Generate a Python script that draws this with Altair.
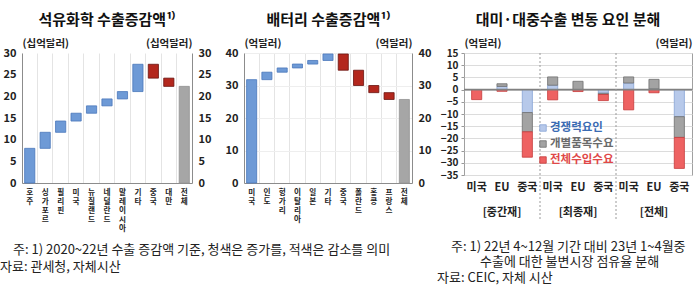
import altair as alt
import pandas as pd

FONT = "Noto Sans CJK KR"
TXT = "#222222"

# ---------------- data ----------------
petro_cats = ["호주", "싱가포르", "필리핀", "미국", "뉴질랜드", "네덜란드",
              "말레이시아", "기타", "중국", "대만", "전체"]
petro_deltas = [8.0, 3.7, 2.6, 1.8, 1.7, 1.6, 1.7, 6.3, -3.2, -1.9]

batt_cats = ["미국", "인도", "헝가리", "이탈리아", "일본", "기타",
             "중국", "폴란드", "홍콩", "프랑스", "전체"]
batt_deltas = [31.8, 2.3, 1.3, 1.2, 1.1, 2.0, -5.0, -4.7, -2.2, -2.1]

groups = ["중간재", "최종재", "전체"]
countries = ["미국", "EU", "중국"]
factor_names = ["경쟁력요인", "개별품목수요", "전체수입수요"]
comp_vals = [0.0, 1.3, -9.4, 1.8, 0.0, -1.5, 2.7, 0.3, -11.1]
item_vals = [0.0, 1.1, -7.9, 3.4, 3.4, -0.5, 2.5, 3.9, -8.5]
total_vals = [-4.1, -0.7, -10.4, -4.2, -0.8, -2.5, -8.3, -1.3, -12.7]

foot_left = ["주: 1) 2020~22년 수출 증감액 기준, 청색은 증가를, 적색은 감소를 의미",
             "자료: 관세청, 자체시산"]
foot_right = ["주: 1) 22년 4~12월 기간 대비 23년 1~4월중",
              "수출에 대한 불변시장 점유율 분해",
              "자료: CEIC, 자체 시산"]

FOOT_SIZE = 13


def waterfall_df(cats, deltas):
    rows, cum = [], 0.0
    for c, d in zip(cats[:-1], deltas):
        start = cum
        cum += d
        rows.append(dict(cat=c, lo=min(start, cum), hi=max(start, cum),
                         kind="inc" if d > 0 else "dec"))
    rows.append(dict(cat=cats[-1], lo=0.0, hi=cum, kind="total"))
    return pd.DataFrame(rows)


def footnote(lines_pos):
    layers = []
    for text, x, y in lines_pos:
        layers.append(
            alt.Chart(pd.DataFrame({"t": [text]}))
            .mark_text(align="left", baseline="middle", font=FONT, fontSize=FOOT_SIZE,
                       color=TXT)
            .encode(x=alt.value(x), y=alt.value(y), text="t:N")
        )
    return layers


def waterfall(cats, deltas, ymax, ystep, unit, title, hgrid, w, extra):
    df = waterfall_df(cats, deltas)
    xdef = alt.X(
        "cat:N", sort=cats,
        scale=alt.Scale(domain=cats, paddingInner=0, paddingOuter=0),
        axis=alt.Axis(title=None, labelExpr="split(datum.label, '')", labelAngle=0,
                      labelFontSize=7.6, labelLineHeight=9.2, labelBaseline="top",
                      labelPadding=5, ticks=False, grid=True, bandPosition=0,
                      gridColor="#e4e4e4", domainColor="#8c8c8c", labelColor=TXT,
                      labelFont=FONT, labelFontWeight="bold"),
    )
    yscale = alt.Scale(domain=[0, ymax], nice=False, zero=True)
    vals = list(range(0, ymax + 1, ystep))
    common = dict(values=vals, ticks=False, labelFontSize=11, labelFontWeight="bold",
                  labelColor=TXT, labelFont=FONT, labelPadding=6, domainColor="#8c8c8c",
                  title=unit, titleAngle=0, titleFont=FONT, titleFontSize=10.5,
                  titleFontWeight="bold", titleColor=TXT, titleBaseline="bottom",
                  titleY=-5, titleX=0)
    bars = alt.Chart(df).mark_bar(width=alt.RelativeBandSize(band=0.66), strokeWidth=0.8).encode(
        x=xdef,
        y=alt.Y("lo:Q", scale=yscale,
                axis=alt.Axis(orient="left", grid=hgrid, gridColor="#eeeeee",
                              titleAlign="left", **common)),
        y2="hi:Q",
        color=alt.Color("kind:N", legend=None,
                        scale=alt.Scale(domain=["inc", "dec", "total"],
                                        range=["#6e9ad6", "#b3271d", "#a6a6a6"])),
        stroke=alt.Stroke("kind:N", legend=None,
                          scale=alt.Scale(domain=["inc", "dec", "total"],
                                          range=["#4a77bb", "#6a1410", "#949494"])),
    )
    ghost = alt.Chart(df).mark_point(opacity=0).encode(
        x=xdef,
        y=alt.Y("hi:Q", scale=yscale,
                axis=alt.Axis(orient="right", grid=False, titleAlign="right", **common)),
    )
    return alt.layer(bars, ghost, *extra).resolve_axis(y="independent").properties(
        width=w, height=130,
        title=alt.TitleParams(title, font=FONT, fontSize=15, fontWeight="bold",
                              color="#111111", anchor="middle", offset=10),
    )


p1 = waterfall(petro_cats, petro_deltas, 30, 5, "(십억달러)", "석유화학  수출증감액¹⁾",
               False, 170,
               footnote([(foot_left[0], -9, 197), (foot_left[1], -22, 214)]))
p2 = waterfall(batt_cats, batt_deltas, 40, 10, "(억달러)", "배터리  수출증감액¹⁾",
               True, 168, [])

# ---------------- panel 3 ----------------
keys = [f"{g}-{c}" for g in groups for c in countries]
rows = []
for i, k in enumerate(keys):
    pos, neg = 0.0, 0.0
    for j, (fname, arr) in enumerate(zip(factor_names, [comp_vals, item_vals, total_vals])):
        v = arr[i]
        if v > 0:
            rows.append(dict(key=k, factor=fname, lo=pos, hi=pos + v))
            pos += v
        elif v < 0:
            rows.append(dict(key=k, factor=fname, lo=neg + v, hi=neg))
            neg += v
df3 = pd.DataFrame(rows)

fill3 = ["#b7c9ea", "#a3a3a3", "#ee6262"]
stroke3 = ["#86a3d6", "#6e6e6e", "#c63b3b"]
text3 = ["#3a6bb3", "#6a6a6a", "#e04848"]

H3 = 122
scale3 = alt.Scale(domain=keys, paddingInner=0, paddingOuter=0)
axis3 = alt.Axis(title=None, labelExpr="split(datum.label, '-')[1]", labelAngle=0,
                 labelFontSize=11, labelFontWeight="bold", labelColor=TXT,
                 labelFont=FONT, labelPadding=6, ticks=False, grid=False, domain=False)
x3 = alt.X("key:N", sort=keys, scale=scale3, axis=axis3)
y3scale = alt.Scale(domain=[-35, 15], nice=False, zero=False)
y3common = dict(values=list(range(-35, 16, 5)), titleAngle=0, titleFont=FONT,
                titleFontSize=10.5, titleFontWeight="bold", titleColor=TXT,
                titleBaseline="bottom", titleY=-5, titleX=0, title="(억달러)")

bars3 = alt.Chart(df3).mark_bar(width=alt.RelativeBandSize(band=0.4), strokeWidth=0.8).encode(
    x=x3,
    y=alt.Y("lo:Q", scale=y3scale,
            axis=alt.Axis(orient="left", grid=True, gridColor="#dcdcdc", ticks=True,
                          tickSize=3, tickColor="#999999", domain=False,
                          labelFontSize=10, labelFontWeight="bold", labelColor=TXT,
                          labelFont=FONT, labelPadding=3, titleAlign="left", **y3common)),
    y2="hi:Q",
    color=alt.Color("factor:N", legend=None,
                    scale=alt.Scale(domain=factor_names, range=fill3)),
    stroke=alt.Stroke("factor:N", legend=None,
                      scale=alt.Scale(domain=factor_names, range=stroke3)),
)
ghost3 = alt.Chart(df3).mark_point(opacity=0).encode(
    x=x3,
    y=alt.Y("hi:Q", scale=y3scale,
            axis=alt.Axis(orient="right", grid=False, ticks=False, labels=False,
                          domain=False, titleAlign="right", **y3common)),
)
zero3 = alt.Chart(pd.DataFrame({"z": [0]})).mark_rule(color="#808080", strokeWidth=1.6).encode(
    y=alt.Y("z:Q", scale=y3scale, axis=None))
sep3 = alt.Chart(pd.DataFrame({"key": [keys[2], keys[5]]})).mark_rule(
    color="#9a9a9a", strokeDash=[2, 2], strokeWidth=1).encode(
    x=alt.X("key:N", sort=keys, bandPosition=1, scale=scale3, axis=axis3),
    y=alt.value(0), y2=alt.value(167))
grp3 = alt.Chart(pd.DataFrame({"key": [keys[1], keys[4], keys[7]],
                               "g": [f"[{g}]" for g in groups]})).mark_text(
    font=FONT, fontSize=11, fontWeight="bold", color=TXT, baseline="middle").encode(
    x=x3, y=alt.value(H3 + 38), text="g:N")

legend_layers = []
for i, name in enumerate(factor_names):
    yy = 75 + 16 * i
    legend_layers.append(
        alt.Chart(pd.DataFrame({"t": [name]})).mark_square(
            size=42, color=fill3[i], stroke=stroke3[i], strokeWidth=0.8, opacity=1)
        .encode(x=alt.value(79), y=alt.value(yy)))
    legend_layers.append(
        alt.Chart(pd.DataFrame({"t": [name]})).mark_text(
            align="left", baseline="middle", font=FONT, fontSize=11.5, fontWeight="bold",
            color=text3[i]).encode(x=alt.value(86), y=alt.value(yy), text="t:N"))

foot3 = footnote([(foot_right[0], -13, 194), (foot_right[1], 16, 209),
                  (foot_right[2], -27, 225)])

p3 = alt.layer(bars3, ghost3, zero3, sep3, grp3, *legend_layers, *foot3).resolve_axis(
    y="independent").properties(
    width=228, height=H3,
    view=alt.ViewBackground(stroke="#a0a0a0", strokeWidth=1),
    title=alt.TitleParams("대미·대중수출 변동 요인 분해", font=FONT, fontSize=15,
                          fontWeight="bold", color="#111111", anchor="middle",
                          offset=10, dx=-10),
)

chart = alt.hconcat(p1, p2, p3, spacing=52, bounds="flush").resolve_scale(
    color="independent", stroke="independent").properties(
    padding={"left": 0, "top": 12, "right": 0, "bottom": 0}
).configure_view(stroke=None)

chart.save("out.html", embed_options={"renderer": "svg", "actions": False})
